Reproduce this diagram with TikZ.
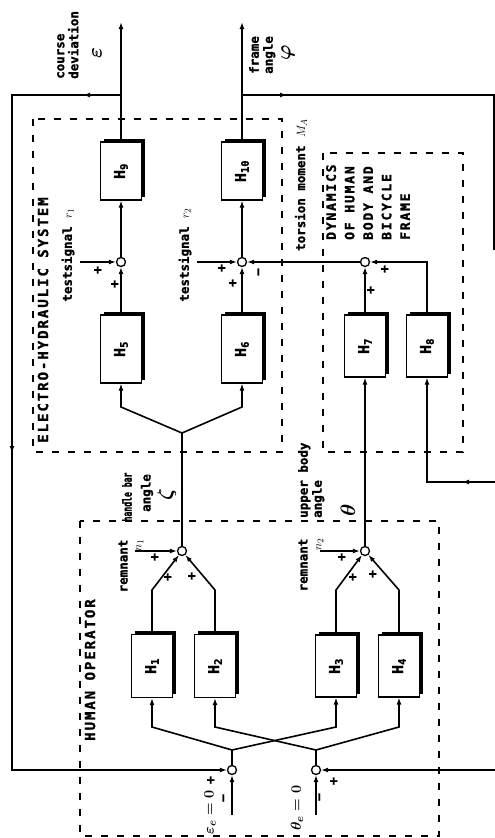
\documentclass[tikz,border=0pt]{standalone}
\usepackage{fontspec}
\usetikzlibrary{arrows.meta,shadows,decorations.markings}
\newfontfamily\plotfont{DejaVu Sans Mono}[BoldFeatures={FakeBold=1.5}]
\newfontfamily\plotcaps{DejaVu Sans Mono}[LetterSpace=14, BoldFeatures={FakeBold=1.5}]
\newcommand{\hname}[1]{\rotatebox{90}{H\textsubscript{#1}}}

\begin{document}
\begin{tikzpicture}[x=1pt, y=-1pt,
        >={Latex[length=7pt,width=5pt]},
        wire/.style={line width=1.6pt},
        hblock/.style={draw, line width=1.3pt, fill=white, inner sep=0pt,
            minimum width=41pt, font=\plotfont\bfseries\fontsize{15}{15}\selectfont,
            general shadow={fill=black, shadow xshift=3.5pt, shadow yshift=3.5pt}},
        sumj/.style={circle, draw, line width=1.3pt, fill=white, minimum size=9pt, inner sep=0pt},
        dashbox/.style={line width=1.1pt, dash pattern=on 7pt off 9pt},
        lab/.style={rotate=90, inner sep=0pt, align=left,
            font=\plotfont\bfseries\fontsize{12.5}{14}\selectfont},
        caps/.style={rotate=90, inner sep=0pt, align=left,
            font=\plotcaps\bfseries\fontsize{14}{19}\selectfont},
        greek/.style={rotate=90, inner sep=0pt, font=\boldmath\fontsize{20}{20}\selectfont},
        sgn/.style={rotate=90, inner sep=0pt, font=\plotfont\bfseries\fontsize{13}{13}\selectfont},
        midarrow/.style={postaction={decorate},
            decoration={markings, mark=at position #1 with {\arrow{>}}}}]
        \useasboundingbox (0,0) rectangle (495,838);

        \draw[dashbox] (33,119) rectangle (282,452);
        \draw[dashbox] (323,153) rectangle (463,452);
        \draw[dashbox] (80,521) rectangle (439,836);

        \node[hblock, minimum height=58pt] (H9) at (121,171) {\hname{9}};
        \node[hblock, minimum height=58pt] (H10) at (242,171) {\hname{10}};
        \node[hblock, minimum height=68pt] (H5) at (121,349) {\hname{5}};
        \node[hblock, minimum height=68pt] (H6) at (242,349) {\hname{6}};
        \node[hblock, minimum height=62pt] (H7) at (365,346) {\hname{7}};
        \node[hblock, minimum height=62pt] (H8) at (427,346) {\hname{8}};
        \node[hblock, minimum height=63pt] (H1) at (152,666) {\hname{1}};
        \node[hblock, minimum height=63pt] (H2) at (215,666) {\hname{2}};
        \node[hblock, minimum height=62pt] (H3) at (336,666) {\hname{3}};
        \node[hblock, minimum height=62pt] (H4) at (399,666) {\hname{4}};

        \node[sumj] (j9) at (121,262) {};
        \node[sumj] (j10) at (242,262) {};
        \node[sumj] (j78) at (365,262) {};
        \node[sumj] (jz) at (182,551) {};
        \node[sumj] (jt) at (365,551) {};
        \node[sumj] (je) at (232,770) {};
        \node[sumj] (jth) at (316,770) {};

        \coordinate (epsout) at (121,22);
        \coordinate (phiout) at (242,22);
        \coordinate (epsfb) at (121,95);
        \coordinate (phifb) at (242,95);
        \coordinate (lc1) at (12,95);
        \coordinate (lc2) at (12,770);
        \coordinate (rc1) at (494,95);
        \coordinate (rc2) at (494,250);
        \coordinate (rin1) at (495,482);
        \coordinate (rin2) at (495,770);
        \coordinate (h8in) at (427,482);
        \coordinate (h8out) at (427,262);
        \coordinate (r1in) at (80,262);
        \coordinate (r2in) at (197,262);
        \coordinate (n1in) at (135,551);
        \coordinate (n2in) at (320,551);
        \coordinate (bz) at (182,433);
        \coordinate (b5) at (121,407);
        \coordinate (b6) at (242,407);
        \coordinate (k1) at (152,590);
        \coordinate (k2) at (215,590);
        \coordinate (k3) at (336,590);
        \coordinate (k4) at (399,590);
        \coordinate (be) at (232,750);
        \coordinate (bth) at (316,750);
        \coordinate (i1) at (152,727);
        \coordinate (i2) at (215,727);
        \coordinate (i3) at (336,727);
        \coordinate (i4) at (399,727);
        \coordinate (eref) at (232,815);
        \coordinate (thref) at (316,815);

        \draw[wire,->] (H9) -- (epsout);
        \draw[wire,->] (H10) -- (phiout);
        \draw[wire,->,postaction={decorate},
            decoration={markings, mark=at position 38pt with {\arrow{>}},
                mark=at position 467pt with {\arrow{>}}}]
            (epsfb) -- (lc1) -- (lc2) -- (je);
        \draw[wire, midarrow=45pt] (phifb) -- (rc1) -- (rc2);
        \draw[wire,->, midarrow=33pt] (rin1) -- (h8in) -- (H8);
        \draw[wire,->] (H8) -- (h8out) -- (j78);

        \path[wire,->] (j9) edge (H9)
                       (H5) edge (j9)
                       (r1in) edge (j9)
                       (j10) edge (H10)
                       (H6) edge (j10)
                       (r2in) edge (j10)
                       (j78) edge (j10)
                       (H7) edge (j78)
                       (jt) edge (H7)
                       (n1in) edge (jz)
                       (n2in) edge (jt)
                       (eref) edge (je)
                       (thref) edge (jth)
                       (rin2) edge (jth);

        \draw[wire] (jz) -- (bz);
        \draw[wire,->] (bz) -- (b5) -- (H5);
        \draw[wire,->] (bz) -- (b6) -- (H6);
        \draw[wire,->] (H1) -- (k1) -- (jz);
        \draw[wire,->] (H2) -- (k2) -- (jz);
        \draw[wire,->] (H3) -- (k3) -- (jt);
        \draw[wire,->] (H4) -- (k4) -- (jt);
        \draw[wire] (je) -- (be);
        \draw[wire] (jth) -- (bth);
        \draw[wire,->] (be) -- (i1) -- (H1);
        \draw[wire,->] (be) -- (i3) -- (H3);
        \draw[wire,->] (bth) -- (i2) -- (H2);
        \draw[wire,->] (bth) -- (i4) -- (H4);

        \node[lab, anchor=north west] (coursetxt) at (57,79) {course\\deviation};
        \node[greek] (epstxt) at (97,53) {$\varepsilon$};
        \node[lab, anchor=north west] (frametxt) at (249,74) {frame\\angle};
        \node[greek] (phitxt) at (288,53) {$\varphi$};
        \node[caps] (ehtxt) at (43,320) {ELECTRO-HYDRAULIC SYSTEM};
        \node[lab] (r1txt) at (68,255) {testsignal $r_1$};
        \node[lab] (r2txt) at (185,255) {testsignal $r_2$};
        \node[lab] (mtxt) at (301,185) {torsion moment $M_A$};
        \node[caps, anchor=north west, font=\plotcaps\bfseries\fontsize{13}{18.5}\selectfont] (dyntxt)
            at (326,240) {DYNAMICS\\OF HUMAN\\BODY AND\\BICYCLE\\FRAME};
        \node[lab, xscale=.65] (hbtxt) at (127,497) {handle bar};
        \node[lab] (zangtxt) at (147,493) {angle};
        \node[greek] (zetatxt) at (167,495) {$\zeta$};
        \node[lab, anchor=north west] (ubtxt) at (298,518) {upper body\\angle};
        \node[greek] (thetatxt) at (348,510) {$\theta$};
        \node[lab, align=right] (n1txt) at (131,566) {remnant\\$n_1$};
        \node[lab, align=right] (n2txt) at (311,565) {remnant\\$n_2$};
        \node[caps] (hotxt) at (90,670) {HUMAN OPERATOR};
        \node[greek, font=\boldmath\fontsize{15}{15}\selectfont] (ereftxt) at (210,812) {$\varepsilon_e = 0$};
        \node[greek, font=\boldmath\fontsize{15}{15}\selectfont] (threftxt) at (297,808) {$\theta_e = 0$};

        \foreach \p [count=\i] in {(98,270),(115,284),(222,268),(233,283),(385,269),(371,290),
                (155,557),(168,577),(192,576),(342,557),(353,577),(373,574),(211,780),(334,781)}
            \node[sgn] (plus\i) at \p {+};
        \foreach \p [count=\i] in {(260,272),(225,798),(321,797)}
            \node[sgn] (minus\i) at \p {−};
    \end{tikzpicture}
\end{document}
